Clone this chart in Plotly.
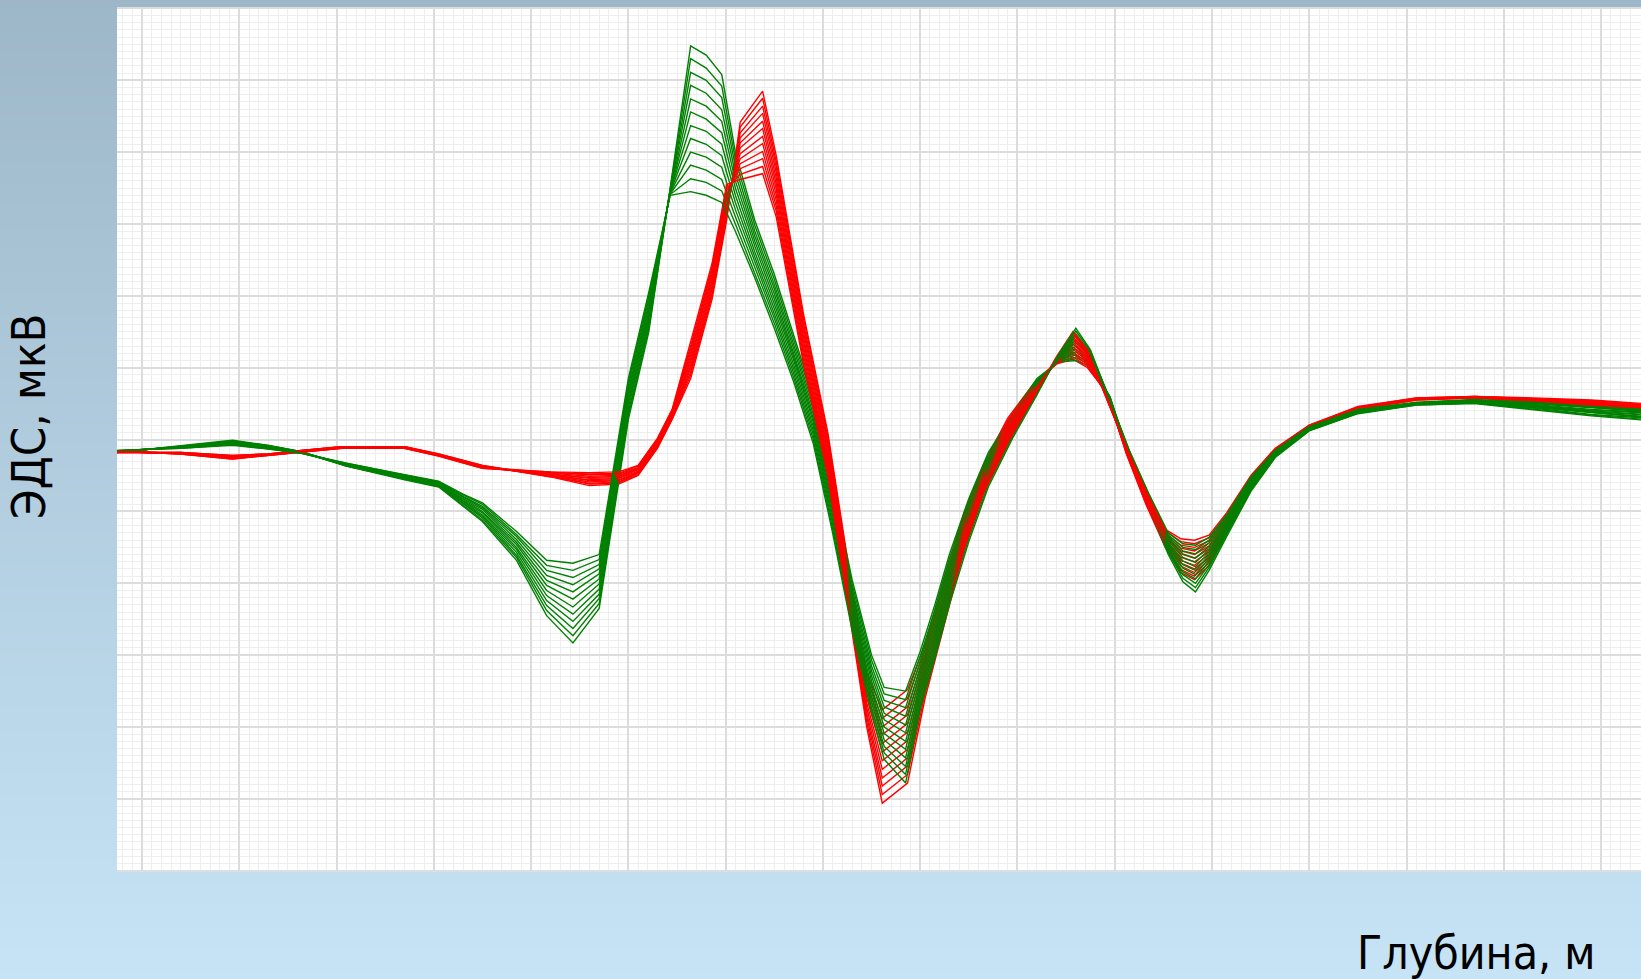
import plotly.graph_objects as go

# Depth samples (grid units) for each family of model curves
DEPTH_GREEN = [-0.26, 0.40, 0.93, 1.30, 1.64, 2.10, 2.70, 3.05, 3.30, 3.50,
               3.85, 4.16, 4.43, 4.70, 5.00, 5.21, 5.43, 5.64, 5.80, 5.96,
               6.10, 6.30, 6.50, 6.70, 6.90, 7.10, 7.30, 7.50, 7.63, 7.85,
               8.00, 8.15, 8.30, 8.50, 8.70, 8.95, 9.20, 9.42, 9.60, 9.75,
               9.95, 10.15, 10.35, 10.55, 10.70, 10.83, 10.97, 11.15, 11.40, 11.65,
               12.00, 12.50, 13.10, 13.70, 14.30, 14.90, 15.45]

# EMF of the 12 green curves at each depth (one row per depth)
EMF_GREEN = [
    [-0.18, -0.18, -0.17, -0.17, -0.17, -0.17, -0.16, -0.16, -0.16, -0.16, -0.15, -0.15],
    [-0.09, -0.09, -0.10, -0.10, -0.10, -0.10, -0.11, -0.11, -0.11, -0.11, -0.12, -0.12],
    [-0.01, -0.02, -0.02, -0.03, -0.04, -0.04, -0.05, -0.05, -0.06, -0.07, -0.07, -0.08],
    [-0.08, -0.08, -0.09, -0.09, -0.10, -0.10, -0.11, -0.11, -0.12, -0.12, -0.13, -0.13],
    [-0.17, -0.17, -0.17, -0.18, -0.18, -0.18, -0.18, -0.18, -0.18, -0.19, -0.19, -0.19],
    [-0.37, -0.37, -0.36, -0.36, -0.36, -0.35, -0.35, -0.35, -0.34, -0.34, -0.33, -0.33],
    [-0.56, -0.55, -0.55, -0.54, -0.53, -0.53, -0.52, -0.52, -0.51, -0.50, -0.50, -0.49],
    [-0.66, -0.65, -0.65, -0.64, -0.63, -0.62, -0.62, -0.61, -0.60, -0.59, -0.59, -0.58],
    [-0.92, -0.91, -0.89, -0.88, -0.86, -0.85, -0.83, -0.82, -0.80, -0.79, -0.77, -0.76],
    [-1.14, -1.12, -1.09, -1.07, -1.05, -1.02, -1.00, -0.97, -0.95, -0.93, -0.90, -0.88],
    [-1.68, -1.64, -1.61, -1.57, -1.53, -1.50, -1.46, -1.43, -1.39, -1.35, -1.32, -1.28],
    [-2.45, -2.38, -2.31, -2.24, -2.17, -2.10, -2.03, -1.96, -1.89, -1.82, -1.75, -1.68],
    [-2.83, -2.73, -2.63, -2.53, -2.43, -2.33, -2.22, -2.12, -2.02, -1.92, -1.82, -1.72],
    [-2.35, -2.28, -2.21, -2.15, -2.08, -2.01, -1.94, -1.87, -1.80, -1.74, -1.67, -1.60],
    [0.28, 0.33, 0.38, 0.44, 0.49, 0.54, 0.59, 0.64, 0.69, 0.75, 0.80, 0.85],
    [1.50, 1.55, 1.60, 1.65, 1.70, 1.75, 1.80, 1.85, 1.90, 1.95, 2.00, 2.05],
    [3.50, 3.49, 3.48, 3.47, 3.46, 3.45, 3.45, 3.44, 3.43, 3.42, 3.41, 3.40],
    [5.48, 5.30, 5.11, 4.93, 4.74, 4.56, 4.37, 4.19, 4.00, 3.82, 3.63, 3.45],
    [5.35, 5.17, 5.00, 4.82, 4.64, 4.46, 4.29, 4.11, 3.93, 3.75, 3.58, 3.40],
    [5.08, 4.92, 4.76, 4.59, 4.43, 4.27, 4.11, 3.95, 3.79, 3.62, 3.46, 3.30],
    [4.00, 3.90, 3.80, 3.70, 3.60, 3.50, 3.40, 3.30, 3.20, 3.10, 3.00, 2.90],
    [3.05, 2.98, 2.90, 2.83, 2.76, 2.69, 2.61, 2.54, 2.47, 2.40, 2.32, 2.25],
    [2.30, 2.23, 2.16, 2.10, 2.03, 1.96, 1.89, 1.82, 1.75, 1.69, 1.62, 1.55],
    [1.45, 1.39, 1.33, 1.27, 1.21, 1.15, 1.10, 1.04, 0.98, 0.92, 0.86, 0.80],
    [0.60, 0.54, 0.48, 0.42, 0.36, 0.30, 0.25, 0.19, 0.13, 0.07, 0.01, -0.05],
    [-0.65, -0.71, -0.77, -0.83, -0.89, -0.95, -1.00, -1.06, -1.12, -1.18, -1.24, -1.30],
    [-1.95, -2.01, -2.08, -2.14, -2.20, -2.27, -2.33, -2.40, -2.46, -2.52, -2.59, -2.65],
    [-3.00, -3.07, -3.15, -3.22, -3.29, -3.36, -3.44, -3.51, -3.58, -3.65, -3.73, -3.80],
    [-3.45, -3.54, -3.63, -3.72, -3.81, -3.90, -4.00, -4.09, -4.18, -4.27, -4.36, -4.45],
    [-3.50, -3.62, -3.73, -3.85, -3.97, -4.08, -4.20, -4.31, -4.43, -4.55, -4.66, -4.78],
    [-2.95, -3.02, -3.10, -3.17, -3.24, -3.31, -3.39, -3.46, -3.53, -3.60, -3.68, -3.75],
    [-2.30, -2.37, -2.44, -2.50, -2.57, -2.64, -2.71, -2.78, -2.85, -2.91, -2.98, -3.05],
    [-1.60, -1.66, -1.73, -1.79, -1.85, -1.92, -1.98, -2.05, -2.11, -2.17, -2.24, -2.30],
    [-0.82, -0.87, -0.93, -0.98, -1.04, -1.09, -1.15, -1.20, -1.26, -1.31, -1.37, -1.42],
    [-0.18, -0.22, -0.27, -0.31, -0.35, -0.40, -0.44, -0.49, -0.53, -0.57, -0.62, -0.66],
    [0.36, 0.33, 0.30, 0.27, 0.24, 0.21, 0.17, 0.14, 0.11, 0.08, 0.05, 0.02],
    [0.85, 0.83, 0.81, 0.79, 0.77, 0.75, 0.72, 0.70, 0.68, 0.66, 0.64, 0.62],
    [1.08, 1.09, 1.10, 1.11, 1.12, 1.13, 1.13, 1.14, 1.15, 1.16, 1.17, 1.18],
    [1.10, 1.14, 1.18, 1.22, 1.26, 1.30, 1.35, 1.39, 1.43, 1.47, 1.51, 1.55],
    [1.02, 1.04, 1.06, 1.08, 1.10, 1.12, 1.15, 1.17, 1.19, 1.21, 1.23, 1.25],
    [0.60, 0.60, 0.59, 0.59, 0.58, 0.58, 0.57, 0.57, 0.56, 0.56, 0.55, 0.55],
    [-0.25, -0.24, -0.23, -0.22, -0.21, -0.20, -0.20, -0.19, -0.18, -0.17, -0.16, -0.15],
    [-0.95, -0.93, -0.91, -0.90, -0.88, -0.86, -0.84, -0.82, -0.80, -0.79, -0.77, -0.75],
    [-1.60, -1.57, -1.55, -1.52, -1.49, -1.46, -1.44, -1.41, -1.38, -1.35, -1.33, -1.30],
    [-1.98, -1.93, -1.88, -1.84, -1.79, -1.74, -1.69, -1.64, -1.59, -1.55, -1.50, -1.45],
    [-2.12, -2.06, -2.00, -1.94, -1.88, -1.82, -1.77, -1.71, -1.65, -1.59, -1.53, -1.47],
    [-1.82, -1.78, -1.74, -1.69, -1.65, -1.61, -1.57, -1.53, -1.49, -1.44, -1.40, -1.36],
    [-1.35, -1.32, -1.30, -1.27, -1.24, -1.21, -1.19, -1.16, -1.13, -1.10, -1.08, -1.05],
    [-0.72, -0.70, -0.68, -0.67, -0.65, -0.63, -0.61, -0.59, -0.57, -0.56, -0.54, -0.52],
    [-0.25, -0.24, -0.23, -0.22, -0.21, -0.20, -0.20, -0.19, -0.18, -0.17, -0.16, -0.15],
    [0.12, 0.13, 0.13, 0.14, 0.14, 0.15, 0.15, 0.16, 0.16, 0.17, 0.17, 0.18],
    [0.36, 0.37, 0.37, 0.38, 0.38, 0.39, 0.39, 0.40, 0.40, 0.41, 0.41, 0.42],
    [0.48, 0.48, 0.49, 0.49, 0.49, 0.50, 0.50, 0.50, 0.51, 0.51, 0.51, 0.52],
    [0.50, 0.51, 0.51, 0.52, 0.52, 0.53, 0.53, 0.54, 0.54, 0.55, 0.55, 0.56],
    [0.42, 0.43, 0.44, 0.45, 0.46, 0.47, 0.47, 0.48, 0.49, 0.50, 0.51, 0.52],
    [0.33, 0.34, 0.35, 0.37, 0.38, 0.39, 0.40, 0.41, 0.42, 0.44, 0.45, 0.46],
    [0.27, 0.28, 0.30, 0.31, 0.32, 0.34, 0.35, 0.37, 0.38, 0.39, 0.41, 0.42],
]

DEPTH_RED = [-0.26, 0.40, 0.93, 1.30, 1.64, 2.05, 2.70, 3.05, 3.50, 4.20,
             4.60, 4.90, 5.10, 5.30, 5.45, 5.64, 5.86, 6.01, 6.15, 6.38,
             6.52, 6.80, 7.05, 7.28, 7.45, 7.61, 7.87, 8.05, 8.25, 8.45,
             8.65, 8.90, 9.15, 9.40, 9.57, 9.72, 9.92, 10.12, 10.32, 10.52,
             10.68, 10.82, 10.97, 11.15, 11.40, 11.65, 12.00, 12.50, 13.10, 13.70,
             14.30, 14.90, 15.45]

# EMF of the 12 red curves at each depth (one row per depth)
EMF_RED = [
    [-0.18, -0.18, -0.18, -0.17, -0.17, -0.17, -0.17, -0.17, -0.17, -0.16, -0.16, -0.16],
    [-0.18, -0.18, -0.18, -0.19, -0.19, -0.19, -0.19, -0.19, -0.19, -0.20, -0.20, -0.20],
    [-0.22, -0.22, -0.23, -0.23, -0.24, -0.24, -0.25, -0.25, -0.26, -0.26, -0.27, -0.27],
    [-0.20, -0.20, -0.20, -0.21, -0.21, -0.21, -0.21, -0.21, -0.21, -0.22, -0.22, -0.22],
    [-0.15, -0.15, -0.15, -0.16, -0.16, -0.16, -0.16, -0.16, -0.16, -0.17, -0.17, -0.17],
    [-0.10, -0.10, -0.10, -0.11, -0.11, -0.11, -0.11, -0.11, -0.11, -0.12, -0.12, -0.12],
    [-0.10, -0.10, -0.10, -0.11, -0.11, -0.11, -0.11, -0.11, -0.11, -0.12, -0.12, -0.12],
    [-0.20, -0.20, -0.21, -0.21, -0.21, -0.21, -0.22, -0.22, -0.22, -0.22, -0.23, -0.23],
    [-0.36, -0.36, -0.37, -0.37, -0.37, -0.38, -0.38, -0.39, -0.39, -0.39, -0.40, -0.40],
    [-0.52, -0.51, -0.51, -0.50, -0.49, -0.49, -0.48, -0.48, -0.47, -0.46, -0.46, -0.45],
    [-0.64, -0.62, -0.61, -0.59, -0.57, -0.56, -0.54, -0.53, -0.51, -0.49, -0.48, -0.46],
    [-0.62, -0.60, -0.59, -0.57, -0.56, -0.54, -0.53, -0.51, -0.50, -0.48, -0.47, -0.45],
    [-0.50, -0.49, -0.47, -0.46, -0.45, -0.44, -0.42, -0.41, -0.40, -0.39, -0.37, -0.36],
    [-0.12, -0.11, -0.09, -0.08, -0.07, -0.06, -0.04, -0.03, -0.02, -0.01, 0.01, 0.02],
    [0.28, 0.29, 0.31, 0.32, 0.33, 0.34, 0.36, 0.37, 0.38, 0.39, 0.41, 0.42],
    [0.85, 0.90, 0.94, 0.99, 1.03, 1.08, 1.12, 1.17, 1.21, 1.26, 1.30, 1.35],
    [1.95, 2.00, 2.04, 2.09, 2.13, 2.18, 2.22, 2.27, 2.31, 2.36, 2.40, 2.45],
    [3.05, 3.10, 3.14, 3.19, 3.23, 3.28, 3.32, 3.37, 3.41, 3.46, 3.50, 3.55],
    [4.42, 4.35, 4.27, 4.20, 4.13, 4.06, 3.98, 3.91, 3.84, 3.77, 3.69, 3.62],
    [4.85, 4.75, 4.64, 4.54, 4.43, 4.33, 4.22, 4.12, 4.01, 3.91, 3.80, 3.70],
    [3.95, 3.87, 3.80, 3.72, 3.64, 3.56, 3.49, 3.41, 3.33, 3.25, 3.18, 3.10],
    [1.75, 1.69, 1.62, 1.56, 1.50, 1.43, 1.37, 1.30, 1.24, 1.18, 1.11, 1.05],
    [0.10, 0.05, -0.01, -0.06, -0.12, -0.17, -0.23, -0.28, -0.34, -0.39, -0.45, -0.50],
    [-1.90, -1.95, -2.01, -2.06, -2.12, -2.17, -2.23, -2.28, -2.34, -2.39, -2.45, -2.50],
    [-3.25, -3.32, -3.39, -3.45, -3.52, -3.59, -3.66, -3.73, -3.80, -3.86, -3.93, -4.00],
    [-3.76, -3.88, -4.00, -4.11, -4.23, -4.35, -4.47, -4.59, -4.71, -4.82, -4.94, -5.06],
    [-3.48, -3.60, -3.72, -3.83, -3.95, -4.07, -4.19, -4.31, -4.43, -4.54, -4.66, -4.78],
    [-2.85, -2.92, -2.99, -3.05, -3.12, -3.19, -3.26, -3.33, -3.40, -3.46, -3.53, -3.60],
    [-1.90, -1.96, -2.02, -2.08, -2.14, -2.20, -2.25, -2.31, -2.37, -2.43, -2.49, -2.55],
    [-1.02, -1.07, -1.11, -1.16, -1.21, -1.25, -1.30, -1.34, -1.39, -1.44, -1.48, -1.53],
    [-0.35, -0.39, -0.42, -0.46, -0.50, -0.53, -0.57, -0.60, -0.64, -0.68, -0.71, -0.75],
    [0.30, 0.27, 0.24, 0.20, 0.17, 0.14, 0.11, 0.08, 0.05, 0.01, -0.02, -0.05],
    [0.75, 0.73, 0.71, 0.70, 0.68, 0.66, 0.64, 0.62, 0.60, 0.59, 0.57, 0.55],
    [1.05, 1.06, 1.07, 1.08, 1.09, 1.10, 1.10, 1.11, 1.12, 1.13, 1.14, 1.15],
    [1.12, 1.15, 1.19, 1.22, 1.26, 1.29, 1.33, 1.36, 1.40, 1.43, 1.47, 1.50],
    [1.00, 1.02, 1.05, 1.07, 1.09, 1.11, 1.14, 1.16, 1.18, 1.20, 1.23, 1.25],
    [0.65, 0.64, 0.63, 0.62, 0.61, 0.60, 0.60, 0.59, 0.58, 0.57, 0.56, 0.55],
    [-0.20, -0.19, -0.18, -0.17, -0.16, -0.15, -0.15, -0.14, -0.13, -0.12, -0.11, -0.10],
    [-0.90, -0.88, -0.86, -0.85, -0.83, -0.81, -0.79, -0.77, -0.75, -0.74, -0.72, -0.70],
    [-1.50, -1.48, -1.45, -1.43, -1.41, -1.39, -1.36, -1.34, -1.32, -1.30, -1.27, -1.25],
    [-1.85, -1.81, -1.76, -1.72, -1.68, -1.64, -1.59, -1.55, -1.51, -1.47, -1.42, -1.38],
    [-1.95, -1.90, -1.85, -1.80, -1.75, -1.70, -1.65, -1.60, -1.55, -1.50, -1.45, -1.40],
    [-1.75, -1.71, -1.67, -1.64, -1.60, -1.56, -1.52, -1.48, -1.44, -1.41, -1.37, -1.33],
    [-1.30, -1.27, -1.25, -1.22, -1.20, -1.17, -1.15, -1.12, -1.10, -1.07, -1.05, -1.02],
    [-0.68, -0.66, -0.65, -0.63, -0.61, -0.60, -0.58, -0.57, -0.55, -0.53, -0.52, -0.50],
    [-0.22, -0.21, -0.20, -0.19, -0.18, -0.17, -0.17, -0.16, -0.15, -0.14, -0.13, -0.12],
    [0.15, 0.15, 0.16, 0.16, 0.17, 0.17, 0.18, 0.18, 0.19, 0.19, 0.20, 0.20],
    [0.42, 0.42, 0.43, 0.43, 0.43, 0.44, 0.44, 0.44, 0.45, 0.45, 0.45, 0.46],
    [0.55, 0.55, 0.56, 0.56, 0.56, 0.56, 0.57, 0.57, 0.57, 0.57, 0.58, 0.58],
    [0.58, 0.58, 0.58, 0.59, 0.59, 0.59, 0.59, 0.59, 0.59, 0.60, 0.60, 0.60],
    [0.52, 0.53, 0.53, 0.54, 0.54, 0.55, 0.55, 0.56, 0.56, 0.57, 0.57, 0.58],
    [0.45, 0.46, 0.47, 0.48, 0.49, 0.50, 0.50, 0.51, 0.52, 0.53, 0.54, 0.55],
    [0.40, 0.41, 0.42, 0.43, 0.44, 0.45, 0.45, 0.46, 0.47, 0.48, 0.49, 0.50],
]

X_TITLE = "Глубина, м"
Y_TITLE = "ЭДС, мкВ"

N_CURVES = len(EMF_GREEN[0])

fig = go.Figure()

# red and green curves interleaved so the bundles blend where they overlap
for k in range(N_CURVES):
    fig.add_trace(go.Scatter(
        x=DEPTH_RED, y=[row[k] for row in EMF_RED], mode="lines",
        line=dict(color="#ff0000", width=1.4), showlegend=False, hoverinfo="skip"))
    fig.add_trace(go.Scatter(
        x=DEPTH_GREEN, y=[row[k] for row in EMF_GREEN], mode="lines",
        line=dict(color="#008000", width=1.4), showlegend=False, hoverinfo="skip"))

# vertical blue gradient behind the whole page
shapes = []
n_bands = 90
top_rgb = (157, 183, 200)
bot_rgb = (198, 228, 246)
y_top, y_bot = 1.01, -0.13
for i in range(n_bands):
    t = i / (n_bands - 1)
    c = tuple(round(top_rgb[j] + (bot_rgb[j] - top_rgb[j]) * t) for j in range(3))
    y1 = y_top + (y_bot - y_top) * i / n_bands
    y0 = y_top + (y_bot - y_top) * (i + 1) / n_bands
    shapes.append(dict(type="rect", xref="paper", yref="paper",
                       x0=-0.08, x1=1.01, y0=y0 - 0.001, y1=y1 + 0.001,
                       fillcolor="rgb(%d,%d,%d)" % c, line=dict(width=0),
                       layer="below"))
shapes.append(dict(type="rect", xref="paper", yref="paper", x0=0, x1=1.01,
                   y0=0, y1=1, fillcolor="white", line=dict(width=0),
                   layer="below"))

FONT = "DejaVu Sans Condensed, DejaVu Sans, sans-serif"

fig.update_layout(
    width=1641, height=979,
    margin=dict(l=117, r=0, t=7, b=109),
    paper_bgcolor="#b1cddf",
    plot_bgcolor="white",
    shapes=shapes,
    xaxis=dict(range=[-0.257, 15.41], tick0=0, dtick=1, showticklabels=False,
               ticks="", showgrid=True, gridcolor="#dcdcdc", gridwidth=2,
               zeroline=False, showline=True, linecolor="#dedede", linewidth=2,
               minor=dict(dtick=0.1, showgrid=True, gridcolor="#eeeeee", gridwidth=1)),
    yaxis=dict(range=[-5.99, 6.02], tick0=0, dtick=1, showticklabels=False,
               ticks="", showgrid=True, gridcolor="#dcdcdc", gridwidth=2,
               zeroline=False, showline=False,
               minor=dict(dtick=0.1, showgrid=True, gridcolor="#eeeeee", gridwidth=1)),
    annotations=[
        dict(text=Y_TITLE, xref="paper", yref="paper", x=-0.0585, y=0.526,
             textangle=-90, showarrow=False, xanchor="center", yanchor="middle",
             font=dict(family=FONT, size=47, color="black")),
        dict(text=X_TITLE, xref="paper", yref="paper", x=0.9718, y=-0.096,
             showarrow=False, xanchor="right", yanchor="middle",
             font=dict(family=FONT, size=46, color="black")),
    ],
)

fig.write_html("out.html")
